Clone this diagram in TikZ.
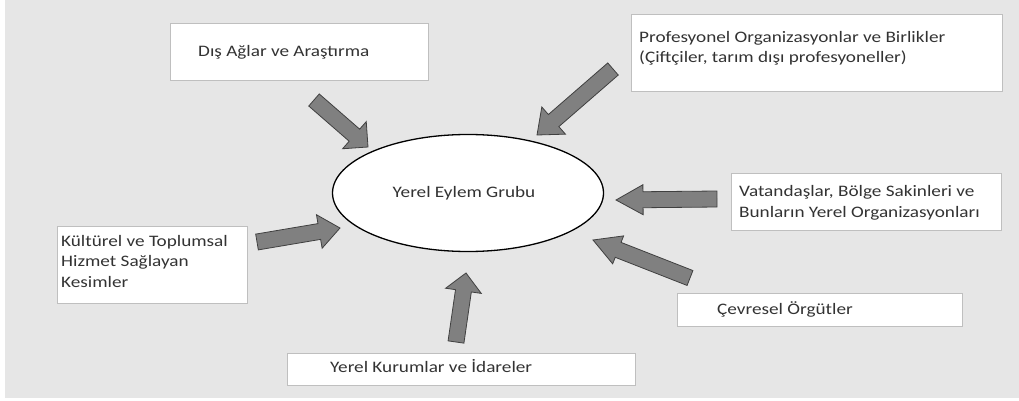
\documentclass[tikz,border=0pt]{standalone}
\usepackage{fontspec}
\setmainfont{Carlito}[FakeStretch=1.2]
\usetikzlibrary{calc,shapes.geometric}
\definecolor{bggray}{HTML}{E6E6E6}
\definecolor{boxline}{HTML}{BFBFBF}
\definecolor{arrowfill}{HTML}{808080}
\definecolor{txtgray}{HTML}{333333}
\tikzset{
  box/.style={draw=boxline,fill=white,line width=0.8pt,anchor=north west,inner sep=0pt},
  txt/.style={text=txtgray,font=\fontsize{16}{20.5}\selectfont,align=left,inner sep=0pt,anchor=base west},
  blockarrow/.style={fill=arrowfill,draw=black!75,line width=0.8pt,line join=miter}
}
% tail, tip, head length, half head width
\newcommand{\garrow}[4]{%
  \coordinate (h) at ($(#2)!#3!(#1)$);
  \draw[blockarrow] ($(#1)!8pt!90:(#2)$) -- ($(h)!8pt!90:(#2)$) -- ($(h)!#4!90:(#2)$) -- (#2)
    -- ($(h)!#4!-90:(#2)$) -- ($(h)!8pt!-90:(#2)$) -- ($(#1)!8pt!-90:(#2)$) -- cycle;}

\begin{document}
\begin{tikzpicture}[x=1pt,y=-1pt]
    \useasboundingbox (0,0) rectangle (1019,401);
    \fill [white] (0,0) rectangle (1019,401);
    \fill [bggray] (5,0) rectangle (1019,398);

    \node [box,minimum width=258,minimum height=57] (dis) at (170,23) {};
    \node [box,minimum width=371,minimum height=77] (prof) at (631,14) {};
    \node [box,minimum width=270,minimum height=57] (vat) at (731,173) {};
    \node [box,minimum width=285,minimum height=33] (cev) at (677,293) {};
    \node [box,minimum width=348,minimum height=32] (kur) at (287,353) {};
    \node [box,minimum width=190,minimum height=77] (kul) at (57,226) {};

    % base of the last line
    \node [txt] (dis-t) at (198,57) {Dış Ağlar ve Araştırma};
    \node [txt] (prof-t) at (639,63) {Profesyonel Organizasyonlar ve Birlikler\\(Çiftçiler, tarım dışı profesyoneller)};
    \node [txt] (vat-t) at (739,217) {Vatandaşlar, Bölge Sakinleri ve\\Bunların Yerel Organizasyonları};
    \node [txt] (cev-t) at (717,314) {Çevresel Örgütler};
    \node [txt] (kur-t) at (330,372) {Yerel Kurumlar ve İdareler};
    \node [txt] (kul-t) at (61,287) {Kültürel ve Toplumsal\\Hizmet Sağlayan\\Kesimler};

    \node [ellipse,draw,fill=white,line width=1.3pt,minimum width=271,minimum height=117,
      text=txtgray,font=\fontsize{16}{20}\selectfont] (leg) at (468,193) {Yerel Eylem Grubu\hspace*{8pt}};

    \coordinate (dis-s) at (314,100);  \coordinate (dis-e) at (368,147);
    \coordinate (prof-s) at (613,69);  \coordinate (prof-e) at (537,135);
    \coordinate (vat-s) at (717,199);  \coordinate (vat-e) at (616,200);
    \coordinate (cev-s) at (690,278);  \coordinate (cev-e) at (593,240);
    \coordinate (kur-s) at (456,342);  \coordinate (kur-e) at (466,273);
    \coordinate (kul-s) at (257,242);  \coordinate (kul-e) at (340,228);

    \garrow{dis-s}{dis-e}{18pt}{18pt}
    \garrow{prof-s}{prof-e}{22pt}{18pt}
    \garrow{vat-s}{vat-e}{27pt}{15pt}
    \garrow{cev-s}{cev-e}{27pt}{15pt}
    \garrow{kur-s}{kur-e}{18pt}{18pt}
    \garrow{kul-s}{kul-e}{21pt}{17pt}
\end{tikzpicture}
\end{document}
